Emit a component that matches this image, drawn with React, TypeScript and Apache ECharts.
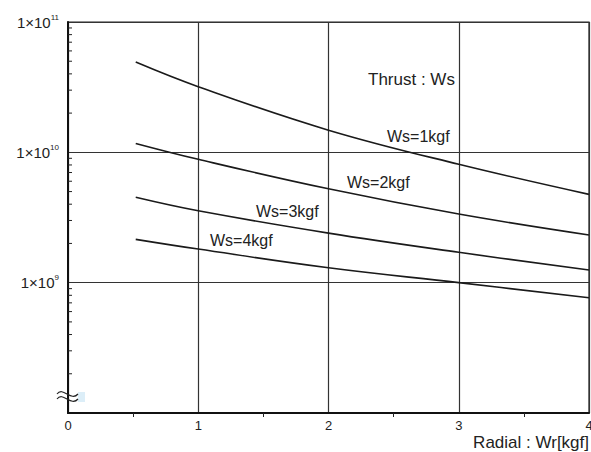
import React, { useEffect, useRef } from "react";
import * as echarts from "echarts";

const xs = [0.52, 1, 2, 3, 4];
const ws1 = [4.93e10, 3.19e10, 1.48e10, 8.1e9, 4.76e9];
const ws2 = [1.17e10, 8.84e9, 5.25e9, 3.36e9, 2.32e9];
const ws3 = [4.52e9, 3.56e9, 2.4e9, 1.71e9, 1.25e9];
const ws4 = [2.15e9, 1.81e9, 1.3e9, 1.0e9, 7.66e8];
const seriesNames = ["Ws=1kgf", "Ws=2kgf", "Ws=3kgf", "Ws=4kgf"];
const yLabels: Record<string, string> = { "1000000000": "9", "10000000000": "10", "100000000000": "11" };
const minorTickValues: number[] = [];
[1e8, 1e9, 1e10].forEach((d) => {
  for (let k = 2; k <= 9; k++) minorTickValues.push(d * k);
});

const FONT = "Liberation Sans, Arial, sans-serif";

export default function App() {
  const ref = useRef<HTMLDivElement>(null);
  useEffect(() => {
    if (!ref.current) return;
    const chart = echarts.init(ref.current, undefined, { renderer: "svg" });
    const mk = (vals: number[], name: string) => ({
      type: "line",
      name,
      data: xs.map((x, i) => [x, vals[i]]),
      smooth: 0.4,
      symbol: "none",
      lineStyle: { color: "#1a1a1a", width: 1.6 },
      z: 5,
    });
    chart.setOption({
      animation: false,
      grid: {
        left: 68, right: 2, top: 22, bottom: 39,
        show: true, borderColor: "#222", borderWidth: 1.2,
        containLabel: false, outerBoundsMode: "none",
      },
      xAxis: {
        type: "value",
        min: 0,
        max: 4,
        interval: 1,
        axisLine: { show: true, lineStyle: { color: "#111", width: 2 } },
        axisTick: { show: false },
        minorTick: { show: true, splitNumber: 2, length: 4, lineStyle: { color: "#222" } },
        splitLine: { show: true, lineStyle: { color: "#333", width: 1.2 } },
        axisLabel: { color: "#222", fontSize: 13, fontFamily: FONT, margin: 6 },
      },
      yAxis: {
        type: "log",
        logBase: 10,
        min: 1e8,
        max: 1e11,
        axisLine: { show: true, lineStyle: { color: "#111", width: 2 } },
        axisTick: { show: false },
        splitLine: { show: true, lineStyle: { color: "#333", width: 1.2 } },
        axisLabel: {
          margin: 9,
          formatter: (v: number) => {
            const key = String(Math.round(v));
            const e = yLabels[key];
            return e ? `{b|1×10}{s|${e}}` : "";
          },
          rich: {
            b: { fontSize: 15, color: "#222", fontFamily: FONT },
            s: { fontSize: 8, color: "#222", fontFamily: FONT, padding: [0, 0, 10, 0] },
          },
        },
      },
      series: [
        mk(ws1, seriesNames[0]),
        mk(ws2, seriesNames[1]),
        mk(ws3, seriesNames[2]),
        mk(ws4, seriesNames[3]),
        {
          type: "custom",
          data: minorTickValues.map((v) => [0, v]),
          renderItem: (params: any, api: any) => {
            const p = api.coord([api.value(0), api.value(1)]);
            return {
              type: "line",
              shape: { x1: p[0], y1: p[1], x2: p[0] + 4, y2: p[1] },
              style: { stroke: "#222", lineWidth: 1 },
            };
          },
          z: 6,
          silent: true,
        },
      ],
      graphic: [
        { type: "text", x: 368, y: 71, style: { text: "Thrust : Ws", fontSize: 17, fill: "#222", fontFamily: FONT } },
        { type: "text", x: 387, y: 128, style: { text: seriesNames[0], fontSize: 16, fill: "#222", fontFamily: FONT } },
        { type: "text", x: 347, y: 174, style: { text: seriesNames[1], fontSize: 16, fill: "#222", fontFamily: FONT } },
        { type: "text", x: 256, y: 203, style: { text: seriesNames[2], fontSize: 16, fill: "#222", fontFamily: FONT } },
        { type: "text", x: 210, y: 232, style: { text: seriesNames[3], fontSize: 16, fill: "#222", fontFamily: FONT } },
        { type: "text", right: 2, top: 434, style: { text: "Radial : Wr[kgf]", fontSize: 17, fill: "#222", fontFamily: FONT } },
        { type: "rect", shape: { x: 78, y: 392, width: 7, height: 10 }, style: { fill: "#dceef8" }, z: 10 },
        {
          type: "bezierCurve", z: 11,
          shape: { x1: 57, y1: 394, cpx1: 63, cpy1: 386, cpx2: 71, cpy2: 402, x2: 78, y2: 394 },
          style: { stroke: "#222", lineWidth: 1.2, fill: "none" },
        },
        {
          type: "bezierCurve", z: 11,
          shape: { x1: 57, y1: 399, cpx1: 63, cpy1: 391, cpx2: 71, cpy2: 407, x2: 78, y2: 399 },
          style: { stroke: "#222", lineWidth: 1.2, fill: "none" },
        },
      ],
    });
    return () => chart.dispose();
  }, []);
  return <div ref={ref} style={{ width: 591, height: 452, position: "absolute", left: 0, top: 0 }} />;
}
